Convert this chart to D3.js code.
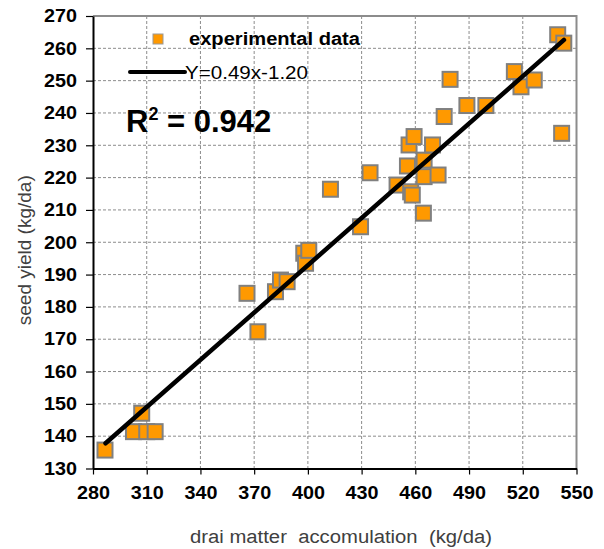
<!DOCTYPE html>
<html>
<head>
<meta charset="utf-8">
<script src="https://cdn.jsdelivr.net/npm/d3@7"></script>
<style>
  body { margin: 0; background: #fff; }
  text { font-family: "Liberation Sans", Arial, sans-serif; white-space: pre; }
</style>
</head>
<body>
<svg width="604" height="549"></svg>
<script>
const xTicks = [280, 310, 340, 370, 400, 430, 460, 490, 520, 550];
const yTicks = [130, 140, 150, 160, 170, 180, 190, 200, 210, 220, 230, 240, 250, 260, 270];

// dry matter (kg/da) and seed yield (kg/da)
const dryMatter = [286.7, 302.6, 310, 314.7, 307.2, 366, 372.1, 381.9, 384.7, 388.4,
  397.7, 398.7, 400.5, 412.6, 429.4, 434.7, 449.8, 455.6, 457.4, 458.3,
  456.5, 459.3, 464.9, 464.9, 472.7, 469.6, 464.5, 476.1, 479.4, 488.8,
  499.4, 515.3, 519, 526.4, 539.5, 542.9, 541.7];
const seedYield = [135.7, 141.4, 141.4, 141.4, 147.1, 184.2, 172.3, 184.7, 188.3, 187.8,
  196.6, 193.5, 197.5, 216.4, 204.8, 221.5, 217.7, 223.6, 215.6, 214.6,
  230.1, 232.7, 225.4, 220.3, 220.8, 230.1, 209, 238.9, 250.4, 242.3,
  242.3, 252.8, 248.1, 250.2, 264.2, 261.6, 233.7];

// fitted line end points
const fitX = [287, 543];
const fitY = [137.8, 262.6];

const svg = d3.select("svg"),
      width = +svg.attr("width"),
      height = +svg.attr("height");

const margin = {top: 16, right: 27.5, bottom: 80.5, left: 93};

const x = d3.scaleLinear().domain([280, 550]).range([margin.left, width - margin.right]);
const y = d3.scaleLinear().domain([130, 270]).range([height - margin.bottom, margin.top]);

// grid
svg.append("g").selectAll("line")
  .data(xTicks.slice(1, -1))
  .enter().append("line")
  .attr("x1", d => x(d)).attr("x2", d => x(d))
  .attr("y1", y(270)).attr("y2", y(130))
  .attr("stroke", "#8c8c8c").attr("stroke-width", 1).attr("stroke-dasharray", "3,2");

svg.append("g").selectAll("line")
  .data(yTicks.slice(1, -1))
  .enter().append("line")
  .attr("x1", x(280)).attr("x2", x(550))
  .attr("y1", d => y(d)).attr("y2", d => y(d))
  .attr("stroke", "#8c8c8c").attr("stroke-width", 1).attr("stroke-dasharray", "3,2");

// grey frame top / right
svg.append("path")
  .attr("d", `M${x(280)},${y(270)}H${x(550)}V${y(130)}`)
  .attr("fill", "none").attr("stroke", "#8c8c8c").attr("stroke-width", 2);

// axes
const xAxis = svg.append("g")
  .attr("transform", `translate(0,${y(130)})`)
  .call(d3.axisBottom(x).tickValues(xTicks).tickSize(6).tickPadding(12).tickSizeOuter(0));
const yAxis = svg.append("g")
  .attr("transform", `translate(${x(280)},0)`)
  .call(d3.axisLeft(y).tickValues(yTicks).tickSize(7).tickPadding(9).tickSizeOuter(0));

[xAxis, yAxis].forEach(a => {
  a.select(".domain").attr("stroke", "#000").attr("stroke-width", 2);
  a.selectAll(".tick line").attr("stroke", "#000").attr("stroke-width", 1.2);
  a.selectAll(".tick text")
    .attr("fill", "#000")
    .attr("textLength", 33)
    .attr("lengthAdjust", "spacingAndGlyphs")
    .style("font-size", "18px")
    .style("font-weight", "bold")
    .style("font-family", "'Liberation Sans', Arial, sans-serif");
});

// points
const pts = dryMatter.map((d, i) => ({x: d, y: seedYield[i]}));
const s = 15;
svg.append("g").selectAll("rect")
  .data(pts)
  .enter().append("rect")
  .attr("x", d => x(d.x) - s / 2)
  .attr("y", d => y(d.y) - s / 2)
  .attr("width", s).attr("height", s)
  .attr("fill", "#ff9900")
  .attr("stroke", "#808080")
  .attr("stroke-width", 2);

// regression line
svg.append("line")
  .attr("x1", x(fitX[0])).attr("y1", y(fitY[0]))
  .attr("x2", x(fitX[1])).attr("y2", y(fitY[1]))
  .attr("stroke", "#000").attr("stroke-width", 4.5).attr("stroke-linecap", "round");

// legend
svg.append("rect")
  .attr("x", 153).attr("y", 34).attr("width", 10).attr("height", 10)
  .attr("fill", "#ff9900").attr("stroke", "#999").attr("stroke-width", 1);
svg.append("text")
  .attr("x", 189).attr("y", 45)
  .attr("textLength", 171).attr("lengthAdjust", "spacingAndGlyphs")
  .style("font-size", "18px").style("font-weight", "bold")
  .text("experimental data");

svg.append("line")
  .attr("x1", 130).attr("x2", 185).attr("y1", 72).attr("y2", 72)
  .attr("stroke", "#000").attr("stroke-width", 4).attr("stroke-linecap", "round");
svg.append("text")
  .attr("x", 185).attr("y", 79)
  .attr("textLength", 123).attr("lengthAdjust", "spacingAndGlyphs")
  .style("font-size", "18px")
  .text("Y=0.49x-1.20");

const r2 = svg.append("text")
  .attr("x", 126).attr("y", 132)
  .style("font-size", "31px").style("font-weight", "bold");
r2.append("tspan").text("R");
r2.append("tspan").attr("dy", -12).style("font-size", "18px").text("2");
r2.append("tspan").attr("dy", 12).text(" = 0.942");

// axis titles
svg.append("text")
  .attr("x", 190).attr("y", 543)
  .attr("textLength", 302).attr("lengthAdjust", "spacingAndGlyphs")
  .attr("fill", "#404040")
  .style("font-size", "18px")
  .text("drai matter  accomulation  (kg/da)");

svg.append("text")
  .attr("transform", `translate(31,${y(200) + 8}) rotate(-90)`)
  .attr("text-anchor", "middle")
  .attr("fill", "#404040")
  .style("font-size", "19px")
  .text("seed yield (kg/da)");
</script>
</body>
</html>
